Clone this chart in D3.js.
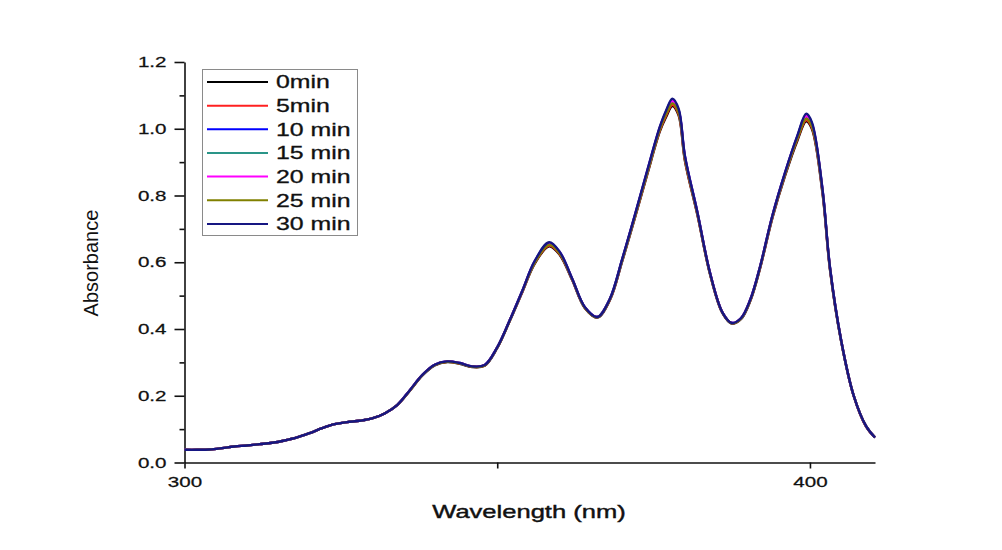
<!DOCTYPE html>
<html>
<head>
<meta charset="utf-8">
<script src="https://cdn.jsdelivr.net/npm/d3@7"></script>
<style>
html, body { margin: 0; padding: 0; background: #fff; }
svg { display: block; font-family: Arial, "Liberation Sans", sans-serif; }
</style>
</head>
<body>
<div id="chart"></div>
<script>
// wavelength grid (nm) shared by all spectra
const wavelengths = [300, 302, 304, 306, 308, 310, 312, 314, 316, 318,
    320, 322, 324, 326, 328, 330, 332, 334, 336, 338,
    340, 342, 344, 346, 348, 350, 352, 354, 356,
    358.3, 360,
    362, 364, 366, 368, 370, 372, 374, 376,
    377, 378, 379, 380,
    382, 384, 386,
    387.5, 389, 390.5,
    392, 394, 396, 398,
    399.4, 400.3,
    402, 403.2, 405, 407, 409, 410.4];

const seriesNames = ['0min', '5min', '10 min', '15 min', '20 min', '25 min', '30 min'];
const seriesColors = ['#000000', '#ff2020', '#0000ff', '#2a9588', '#ff00ff', '#808000', '#161682'];

const abs0min = [0.038, 0.038, 0.039, 0.043, 0.048, 0.051, 0.055, 0.059, 0.066, 0.075,
    0.088, 0.103, 0.115, 0.121, 0.125, 0.132, 0.147, 0.172, 0.214, 0.260,
    0.291, 0.301, 0.296, 0.286, 0.290, 0.343, 0.424, 0.510, 0.596,
    0.648, 0.622,
    0.546, 0.463, 0.434, 0.486, 0.604, 0.732, 0.864, 0.992,
    1.035, 1.068, 1.040, 0.905,
    0.742, 0.566, 0.448,
    0.416, 0.430, 0.486, 0.580, 0.733, 0.858, 0.965,
    1.022, 1.000,
    0.808, 0.578, 0.362, 0.199, 0.107, 0.075];
const abs5min = [0.038, 0.038, 0.039, 0.043, 0.048, 0.051, 0.055, 0.059, 0.066, 0.075,
    0.088, 0.103, 0.115, 0.121, 0.125, 0.132, 0.147, 0.172, 0.215, 0.261,
    0.292, 0.302, 0.297, 0.287, 0.291, 0.344, 0.425, 0.511, 0.598,
    0.650, 0.624,
    0.547, 0.464, 0.435, 0.487, 0.606, 0.734, 0.867, 0.995,
    1.040, 1.072, 1.044, 0.908,
    0.744, 0.567, 0.449,
    0.417, 0.431, 0.487, 0.581, 0.735, 0.861, 0.969,
    1.026, 1.004,
    0.811, 0.580, 0.363, 0.199, 0.107, 0.075];
const abs10min = [0.038, 0.038, 0.039, 0.043, 0.048, 0.051, 0.055, 0.059, 0.066, 0.075,
    0.088, 0.103, 0.115, 0.121, 0.125, 0.132, 0.147, 0.172, 0.216, 0.262,
    0.293, 0.303, 0.298, 0.288, 0.292, 0.345, 0.426, 0.514, 0.603,
    0.658, 0.630,
    0.550, 0.465, 0.436, 0.490, 0.610, 0.740, 0.874, 1.004,
    1.052, 1.086, 1.056, 0.918,
    0.750, 0.570, 0.450,
    0.418, 0.433, 0.490, 0.585, 0.740, 0.867, 0.978,
    1.041, 1.016,
    0.818, 0.584, 0.365, 0.200, 0.108, 0.075];
const abs15min = [0.038, 0.038, 0.039, 0.043, 0.048, 0.051, 0.055, 0.059, 0.066, 0.075,
    0.088, 0.103, 0.115, 0.121, 0.125, 0.132, 0.147, 0.172, 0.216, 0.262,
    0.293, 0.303, 0.298, 0.288, 0.292, 0.345, 0.426, 0.513, 0.601,
    0.655, 0.628,
    0.549, 0.465, 0.436, 0.489, 0.608, 0.738, 0.871, 1.001,
    1.048, 1.080, 1.052, 0.915,
    0.748, 0.569, 0.450,
    0.418, 0.432, 0.489, 0.584, 0.738, 0.865, 0.975,
    1.036, 1.012,
    0.816, 0.583, 0.364, 0.200, 0.108, 0.075];
const abs20min = [0.038, 0.038, 0.039, 0.043, 0.048, 0.051, 0.055, 0.059, 0.066, 0.075,
    0.088, 0.103, 0.115, 0.121, 0.125, 0.132, 0.147, 0.172, 0.216, 0.262,
    0.293, 0.303, 0.298, 0.288, 0.292, 0.345, 0.426, 0.513, 0.602,
    0.656, 0.629,
    0.549, 0.465, 0.436, 0.489, 0.609, 0.739, 0.873, 1.003,
    1.050, 1.083, 1.054, 0.917,
    0.749, 0.570, 0.450,
    0.418, 0.433, 0.490, 0.585, 0.739, 0.866, 0.977,
    1.038, 1.014,
    0.817, 0.584, 0.365, 0.200, 0.108, 0.075];
const abs25min = [0.038, 0.038, 0.039, 0.043, 0.048, 0.051, 0.055, 0.059, 0.066, 0.075,
    0.088, 0.103, 0.115, 0.121, 0.125, 0.132, 0.147, 0.172, 0.215, 0.261,
    0.292, 0.302, 0.297, 0.287, 0.291, 0.344, 0.425, 0.512, 0.599,
    0.652, 0.626,
    0.548, 0.464, 0.435, 0.488, 0.607, 0.736, 0.869, 0.998,
    1.044, 1.076, 1.048, 0.912,
    0.746, 0.568, 0.449,
    0.417, 0.432, 0.488, 0.583, 0.737, 0.863, 0.972,
    1.030, 1.008,
    0.814, 0.582, 0.364, 0.200, 0.108, 0.075];
const abs30min = [0.038, 0.038, 0.039, 0.043, 0.048, 0.051, 0.055, 0.059, 0.066, 0.075,
    0.088, 0.103, 0.115, 0.121, 0.125, 0.132, 0.147, 0.172, 0.216, 0.262,
    0.293, 0.303, 0.298, 0.288, 0.292, 0.345, 0.426, 0.514, 0.604,
    0.660, 0.631,
    0.550, 0.466, 0.436, 0.490, 0.611, 0.741, 0.876, 1.006,
    1.055, 1.090, 1.060, 0.920,
    0.750, 0.570, 0.450,
    0.418, 0.433, 0.490, 0.585, 0.740, 0.868, 0.980,
    1.045, 1.020,
    0.820, 0.585, 0.365, 0.200, 0.108, 0.075];

const seriesValues = [abs0min, abs5min, abs10min, abs15min, abs20min, abs25min, abs30min];

const xTicks = [300, 350, 400];
const xTickLabels = ['300', '', '400'];
const yTicks = [0, 0.2, 0.4, 0.6, 0.8, 1.0, 1.2];
const yMinorTicks = [0.1, 0.3, 0.5, 0.7, 0.9, 1.1];

const width = 1002;
const height = 550;
const stretch = 1.42; // horizontal text stretch seen in the source image

const svg = d3.select('#chart').append('svg')
    .attr('width', width)
    .attr('height', height)
    .style('background', '#fff');

const x = d3.scaleLinear().domain([300, 410.4]).range([184.5, 875]);
const y = d3.scaleLinear().domain([0, 1.2]).range([462.5, 62]);

// y axis
const yAxisG = svg.append('g')
    .attr('transform', `translate(${x(300)}, 0)`)
    .call(d3.axisLeft(y).tickValues(yTicks).tickFormat(d3.format('.1f')).tickSize(10).tickSizeOuter(0).tickPadding(9));
yAxisG.append('g')
    .call(d3.axisLeft(y).tickValues(yMinorTicks).tickFormat('').tickSize(5).tickSizeOuter(0))
    .select('.domain').remove();
yAxisG.selectAll('.tick text')
    .attr('x', -18 / stretch)
    .attr('transform', `scale(${stretch}, 1)`)
    .style('font-size', '14.5px');

// x axis
const xAxisG = svg.append('g')
    .attr('transform', `translate(0, ${y(0)})`)
    .call(d3.axisBottom(x).tickValues(xTicks).tickFormat((d, i) => xTickLabels[i]).tickSize(6).tickSizeOuter(0).tickPadding(8));
xAxisG.selectAll('.tick text')
    .attr('transform', `scale(${stretch}, 1)`)
    .style('font-size', '14.5px');

svg.selectAll('.domain, .tick line')
    .attr('stroke', '#111')
    .attr('stroke-width', 1.6);
svg.selectAll('.tick text')
    .attr('fill', '#111')
    .attr('stroke', '#111')
    .attr('stroke-width', 0.25);

// spectra
const line = d3.line()
    .x((d, i) => x(wavelengths[i]))
    .y(d => y(d))
    .curve(d3.curveCatmullRom.alpha(0.5));

svg.append('g')
    .selectAll('path')
    .data(seriesValues)
    .join('path')
    .attr('d', line)
    .attr('fill', 'none')
    .attr('stroke', (d, i) => seriesColors[i])
    .attr('stroke-width', 2.4)
    .attr('stroke-linejoin', 'round');

// legend
const legend = svg.append('g');
legend.append('rect')
    .attr('x', 202.5)
    .attr('y', 69.5)
    .attr('width', 155)
    .attr('height', 166)
    .attr('fill', '#fff')
    .attr('stroke', '#8a8a8a')
    .attr('stroke-width', 1);

const rows = legend.selectAll('.row')
    .data(seriesNames)
    .join('g')
    .attr('class', 'row')
    .attr('transform', (d, i) => `translate(0, ${82 + i * 23.65})`);
rows.append('line')
    .attr('x1', 207)
    .attr('x2', 268)
    .attr('stroke', (d, i) => seriesColors[i])
    .attr('stroke-width', 2);
rows.append('text')
    .attr('transform', `translate(276, 0) scale(${stretch}, 1)`)
    .attr('dy', '0.36em')
    .style('font-size', '17.5px')
    .attr('fill', '#111')
    .attr('stroke', '#111')
    .attr('stroke-width', 0.3)
    .text(d => d);

// axis titles
svg.append('text')
    .attr('transform', `translate(529, 518) scale(${stretch}, 1)`)
    .attr('text-anchor', 'middle')
    .style('font-size', '18px')
    .attr('fill', '#111')
    .attr('stroke', '#111')
    .attr('stroke-width', 0.4)
    .text('Wavelength (nm)');

svg.append('text')
    .attr('transform', 'translate(98, 263) rotate(-90)')
    .attr('text-anchor', 'middle')
    .style('font-size', '20px')
    .attr('fill', '#111')
    .text('Absorbance');
</script>
</body>
</html>
